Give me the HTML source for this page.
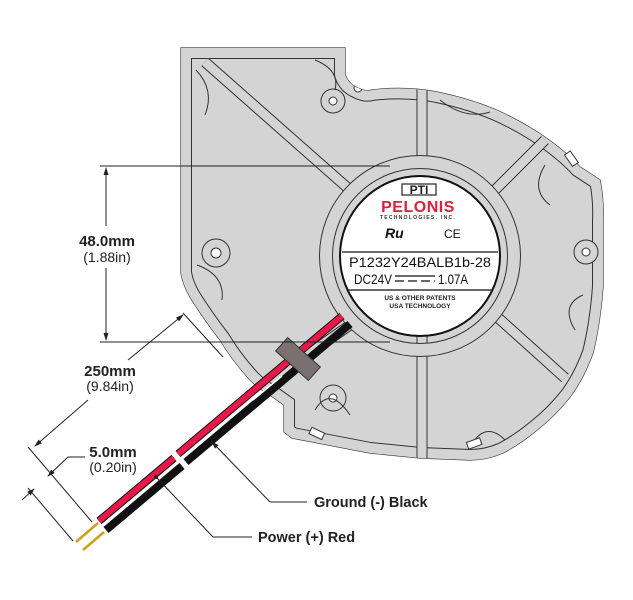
<!DOCTYPE html>
<html><head><meta charset="utf-8">
<style>
html,body{margin:0;padding:0;background:#fff;}
svg{display:block;}
text{font-family:"Liberation Sans",sans-serif;}
</style></head>
<body>
<svg width="633" height="600" viewBox="0 0 633 600" xmlns="http://www.w3.org/2000/svg">
<defs>
<clipPath id="body">
<path id="outl" d="M181,48 L345,48 L345,74 Q348,84 358,88 Q366,92 372,90 Q405,86 437,92 Q475,100 503,113 Q532,127 553,143 Q570,156 580,167 L600,180 Q604,200 603,220 L603,287 Q600,325 593,353 Q584,378 570,397 Q555,416 537,430 Q520,444 503,453 Q487,460 470,460 L420,458 L370,453 L292,438 L284,432 L284,405 L270,395 Q258,388 250,380 Q232,360 220,340 Q203,318 190,297 Q183,285 181,273 Z"/>
</clipPath>
<marker id="ar" markerWidth="8" markerHeight="8" refX="7" refY="4" orient="auto" markerUnits="userSpaceOnUse"><path d="M0,1.5 L8,4 L0,6.5 Z" fill="#222"/></marker>
</defs>

<use href="#outl" fill="#d4d4d4" stroke="#333" stroke-width="1.2"/>
<g clip-path="url(#body)" fill="none">
  <use href="#outl" stroke="#333" stroke-width="22"/>
  <use href="#outl" stroke="#d4d4d4" stroke-width="20"/>
  <g stroke="#333" stroke-width="11" stroke-linecap="butt">
    <line x1="205" y1="62" x2="350" y2="190"/>
    <line x1="422" y1="80" x2="422" y2="160"/>
    <line x1="545" y1="140" x2="495" y2="190"/>
    <line x1="495" y1="315" x2="565" y2="378"/>
    <line x1="422" y1="335" x2="422" y2="470"/>
    <line x1="350" y1="325" x2="300" y2="360"/>
  </g>
  <g stroke="#d4d4d4" stroke-width="9" stroke-linecap="butt">
    <line x1="205" y1="62" x2="350" y2="190"/>
    <line x1="422" y1="80" x2="422" y2="160"/>
    <line x1="545" y1="140" x2="495" y2="190"/>
    <line x1="495" y1="315" x2="565" y2="378"/>
    <line x1="422" y1="335" x2="422" y2="470"/>
    <line x1="350" y1="325" x2="300" y2="360"/>
  </g>
  <circle cx="420" cy="256" r="94" stroke="#333" stroke-width="14"/>
  <circle cx="420" cy="256" r="94" stroke="#d4d4d4" stroke-width="12"/>
  <circle cx="216" cy="253" r="14" stroke="#333" fill="#d4d4d4"/>
  <circle cx="216" cy="253" r="5" stroke="#333" fill="#fff"/>
  <circle cx="333" cy="101" r="12" stroke="#333" fill="#d4d4d4"/>
  <circle cx="333" cy="101" r="4" stroke="#333" fill="#fff"/>
  <circle cx="358" cy="88" r="4" stroke="#333" fill="#fff"/>
  <circle cx="586" cy="252" r="12" stroke="#333" fill="#d4d4d4"/>
  <circle cx="586" cy="252" r="4" stroke="#333" fill="#fff"/>
  <circle cx="333" cy="398" r="13" stroke="#333" fill="#d4d4d4"/>
  <circle cx="333" cy="398" r="4" stroke="#333" fill="#fff"/>
  <path d="M197,265 Q225,275 222,300" stroke="#333"/>
  <path d="M196,70 Q215,90 205,115" stroke="#333"/>
  <path d="M440,100 Q465,120 490,112" stroke="#333"/>
  <path d="M545,165 Q530,190 550,205" stroke="#333"/>
  <path d="M583,295 Q560,305 575,330" stroke="#333"/>
  <path d="M470,447 Q485,420 505,440" stroke="#333"/>
  <path d="M315,410 Q330,385 350,415" stroke="#333"/>
  <path d="M315,60 Q340,70 335,90" stroke="#333"/>
</g>
<g fill="#fff" stroke="#333" stroke-width="1">
  <rect x="568" y="152" width="7" height="14" transform="rotate(-35 571 159)"/>
  <rect x="310" y="430" width="14" height="7" transform="rotate(25 317 433)"/>
  <rect x="467" y="440" width="14" height="7" transform="rotate(-20 474 443)"/>
</g>

<circle cx="420" cy="256" r="80" fill="#fff" stroke="#111" stroke-width="2"/>
<rect x="402" y="184" width="34" height="11" fill="#fff" stroke="#222" stroke-width="1.2"/>
<text x="419" y="194" text-anchor="middle" font-size="12" font-weight="bold" fill="#222">PTI</text>
<text x="418" y="212" text-anchor="middle" font-size="16" font-weight="bold" fill="#e01e3c" letter-spacing="0.5">PELONIS</text>
<text x="418" y="219" text-anchor="middle" font-size="5" font-weight="bold" fill="#333" letter-spacing="1.3">TECHNOLOGIES. INC.</text>
<text x="385" y="238" font-size="14" font-weight="bold" fill="#111" font-style="italic">Ru</text>
<text x="444" y="238" font-size="12" fill="#111">CE</text>
<line x1="342" y1="252" x2="498" y2="252" stroke="#111" stroke-width="1.2"/>
<text x="420" y="267" text-anchor="middle" font-size="14" fill="#111" textLength="142" lengthAdjust="spacingAndGlyphs">P1232Y24BALB1b-28</text>
<text x="354" y="284" font-size="14" fill="#111" textLength="38" lengthAdjust="spacingAndGlyphs">DC24V</text>
<line x1="395" y1="276" x2="435" y2="276" stroke="#111" stroke-width="1.3"/>
<line x1="395" y1="281" x2="435" y2="281" stroke="#111" stroke-width="1.3" stroke-dasharray="9,4"/>
<text x="438" y="284" font-size="14" fill="#111" textLength="30" lengthAdjust="spacingAndGlyphs">1.07A</text>
<line x1="348" y1="290" x2="492" y2="290" stroke="#111" stroke-width="1.2"/>
<text x="420" y="300" text-anchor="middle" font-size="6.5" font-weight="bold" fill="#222">US &amp; OTHER PATENTS</text>
<text x="420" y="308" text-anchor="middle" font-size="6.5" font-weight="bold" fill="#222">USA TECHNOLOGY</text>

<g stroke-linecap="butt">
  <line x1="342" y1="316" x2="178" y2="454" stroke="#111" stroke-width="8"/>
  <line x1="342" y1="316" x2="178" y2="454" stroke="#e8194a" stroke-width="6"/>
  <line x1="174" y1="458" x2="99" y2="521" stroke="#111" stroke-width="8"/>
  <line x1="174" y1="458" x2="99" y2="521" stroke="#e8194a" stroke-width="6"/>
  <line x1="350" y1="324" x2="186" y2="462" stroke="#111" stroke-width="8"/>
  <line x1="182" y1="466" x2="106" y2="530" stroke="#111" stroke-width="8"/>
  <line x1="98" y1="523" x2="76" y2="542" stroke="#c9a21a" stroke-width="2.5"/>
  <line x1="104" y1="532" x2="83" y2="550" stroke="#c9a21a" stroke-width="2.5"/>
  <line x1="253" y1="400" x2="282" y2="376" stroke="#fff" stroke-width="1.5"/>
</g>
<rect x="276" y="350" width="44" height="18" fill="#7a7070" stroke="#333" stroke-width="1" transform="rotate(42 298 359)"/>

<g stroke="#222" stroke-width="1" fill="none">
  <line x1="100" y1="166" x2="390" y2="166"/>
  <line x1="100" y1="342" x2="390" y2="342"/>
  <line x1="106" y1="226" x2="106" y2="168" marker-end="url(#ar)"/>
  <line x1="106" y1="268" x2="106" y2="340" marker-end="url(#ar)"/>
  <line x1="183" y1="313" x2="223" y2="357"/>
  <line x1="28" y1="447" x2="92" y2="522"/>
  <line x1="128" y1="360" x2="183" y2="315" marker-end="url(#ar)"/>
  <line x1="88" y1="400" x2="35" y2="446" marker-end="url(#ar)"/>
  <line x1="28" y1="488" x2="73" y2="541"/>
  <line x1="85" y1="457" x2="68" y2="457"/>
  <line x1="68" y1="457" x2="48" y2="476" marker-end="url(#ar)"/>
  <line x1="22" y1="500" x2="34" y2="489" marker-end="url(#ar)"/>
  <line x1="270" y1="502" x2="212" y2="442" marker-end="url(#ar)"/>
  <line x1="270" y1="502" x2="307" y2="502"/>
  <line x1="213" y1="537" x2="157" y2="478"/>
  <line x1="213" y1="537" x2="252" y2="537"/>
</g>
<circle cx="156" cy="477" r="2" fill="#222"/>

<g fill="#222">
  <text x="107" y="246" text-anchor="middle" font-size="15" font-weight="bold">48.0mm</text>
  <text x="107" y="262" text-anchor="middle" font-size="14">(1.88in)</text>
  <text x="110" y="376" text-anchor="middle" font-size="15" font-weight="bold">250mm</text>
  <text x="110" y="391" text-anchor="middle" font-size="14">(9.84in)</text>
  <text x="113" y="457" text-anchor="middle" font-size="15" font-weight="bold">5.0mm</text>
  <text x="113" y="472" text-anchor="middle" font-size="14">(0.20in)</text>
  <text x="314" y="507" font-size="14.5" font-weight="bold">Ground (-) Black</text>
  <text x="258" y="542" font-size="14.5" font-weight="bold">Power (+) Red</text>
</g>
</svg>
</body></html>
